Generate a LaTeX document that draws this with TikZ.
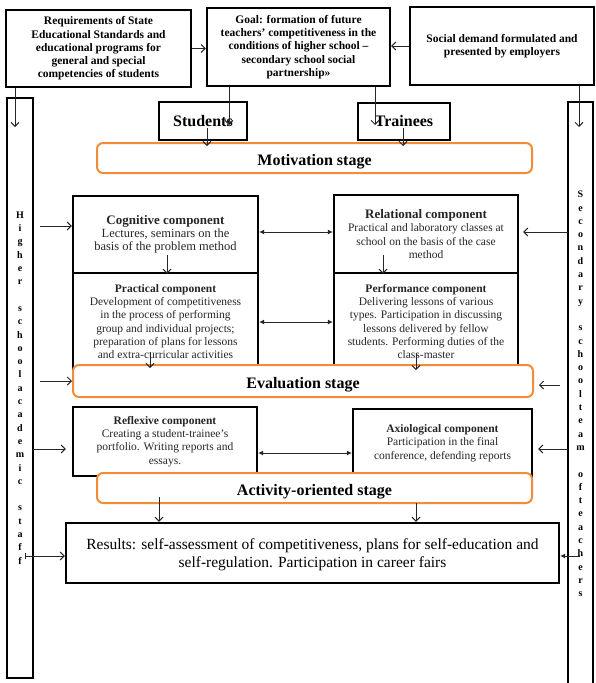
\documentclass[tikz,border=0pt]{standalone}
\usepackage{fontspec}
\setmainfont{Liberation Serif}
\usetikzlibrary{positioning, arrows.meta}
\definecolor{stageorange}{RGB}{242, 140, 56}

\tikzset{
  box/.style={draw, line width=2.2pt, inner sep=0pt, align=center},
  stagebox/.style={draw=stageorange, line width=2pt, rounded corners=6pt, fill=white,
    inner sep=0pt, text height=14pt, text depth=0pt, font=\bfseries\fontsize{16}{18}\selectfont},
  toptext/.style={font=\bfseries\fontsize{11.5}{13.3}\selectfont},
  comptext/.style={font=\fontsize{11.5}{13.3}\selectfont, text=black!85},
  coltext/.style={font=\bfseries\fontsize{10}{13.3}\selectfont},
  arr/.style={-{Straight Barb[length=4pt,width=8pt]}, line width=1pt, black!85},
  darr/.style={{Latex[length=5pt,width=5pt]}-{Latex[length=5pt,width=5pt]}, line width=1pt, black!85},
}

\begin{document}
\begin{tikzpicture}[x=1pt,y=-1pt]
\useasboundingbox (0,0) rectangle (596,683);
% top row
\node[box, toptext, minimum width=185pt, minimum height=77pt] (req) at (98.5,48.5) {Requirements of State\\Educational Standards and\\educational programs for\\general and special\\competencies of students};
\node[box, toptext, minimum width=183pt, minimum height=78pt] (goal) at (298.5,47) {Goal: formation of future\\teachers' competitiveness in the\\conditions of higher school –\\secondary school social\\partnership»};
\node[box, toptext, minimum width=184pt, minimum height=78pt] (demand) at (502,46) {Social demand formulated and\\presented by employers};
\node[box, font=\bfseries\fontsize{16}{18}\selectfont, minimum width=88pt, minimum height=38pt] (students) at (203,121) {Students};
\node[box, font=\bfseries\fontsize{16}{18}\selectfont, minimum width=92pt, minimum height=37pt] (trainees) at (404,121.5) {Trainees};
% side columns
\node[box, coltext, minimum width=26pt, minimum height=580pt] (hsstaff) at (20,388) {H\\i\\g\\h\\e\\r\\[13.3pt]s\\c\\h\\o\\o\\l\\a\\c\\a\\d\\e\\m\\i\\c\\[13.3pt]s\\t\\a\\f\\f};
\node[box, coltext, minimum width=25pt, minimum height=584pt] (stteam) at (580.5,394) {S\\e\\c\\o\\n\\d\\a\\r\\y\\[13.3pt]s\\c\\h\\o\\o\\l\\t\\e\\a\\m\\[13.3pt]o\\f\\t\\e\\a\\c\\h\\e\\r\\s};
% components
\node[box, comptext, minimum width=185pt, minimum height=77pt] (cogn) at (165.5,234.5) {{\bfseries\fontsize{13}{13.3}\selectfont Cognitive component}\\{\fontsize{12.5}{13.3}\selectfont Lectures, seminars on the}\\{\fontsize{12.5}{13.3}\selectfont basis of the problem method}};
\node[box, comptext, minimum width=185pt, minimum height=97pt] (pract) at (165.5,321.5) {{\bfseries Practical component}\\Development of competitiveness\\in the process of performing\\group and individual projects;\\preparation of plans for lessons\\and extra-curricular activities};
\node[box, comptext, minimum width=184pt, minimum height=78pt] (relat) at (426,234) {{\bfseries\fontsize{13}{13.3}\selectfont Relational component}\\Practical and laboratory classes at\\school on the basis of the case\\method};
\node[box, comptext, minimum width=184pt, minimum height=97pt] (perf) at (426,321.5) {{\bfseries Performance component}\\Delivering lessons of various\\types. Participation in discussing\\lessons delivered by fellow\\students. Performing duties of the\\class-master};
\node[box, comptext, minimum width=184pt, minimum height=69pt] (refl) at (165,441.5) {{\bfseries Reflexive component}\\Creating a student-trainee's\\portfolio. Writing reports and\\essays.};
\node[box, comptext, minimum width=179pt, minimum height=68pt] (axio) at (442.5,443) {{\bfseries Axiological component}\\Participation in the final\\conference, defending reports};
% stages
\node[stagebox, minimum width=435pt, minimum height=30pt] (motiv) at (314.5,158) {Motivation stage};
\node[stagebox, minimum width=460pt, minimum height=32pt] (eval) at (303,381) {Evaluation stage};
\node[stagebox, minimum width=435pt, minimum height=30pt] (activ) at (314.5,488) {Activity-oriented stage};
\node[box, font=\fontsize{15.5}{18}\selectfont, text depth=0pt, minimum width=493pt, minimum height=60pt] (results) at (312.5,553) {Results: self-assessment of competitiveness, plans for self-education and\\self-regulation. Participation in career fairs};

% arrows at the top
\draw[arr] (req.east) -- (req.east -| goal.west);
\draw[arr] (demand.west) -- (demand.west -| goal.east);
\coordinate (hsin) at (15,127);
\draw[arr] (req.south -| hsin) -- (hsin);
\coordinate (stin) at (579,127);
\draw[arr] (demand.south -| stin) -- (stin);
\coordinate (studin) at (229,125);
\draw[arr] (goal.south -| studin) -- (studin);
\coordinate (trin) at (375,125);
\draw[arr] (goal.south -| trin) -- (trin);
\coordinate (studout) at (207,128);
\draw[arr, shorten >=-4pt] (studout) -- (motiv.north -| studout);
\coordinate (trout) at (403,128);
\draw[arr, shorten >=-4pt] (trout) -- (motiv.north -| trout);

% arrows from the columns
\coordinate (hs1) at (40,226);
\draw[arr] (hs1) -- (cogn.west |- hs1);
\coordinate (hs2) at (40,381);
\draw[arr] (hs2) -- (eval.west |- hs2);
\coordinate (hs3) at (33,449);
\draw[arr, shorten >=6pt] (hs3) -- (refl.west |- hs3);
\coordinate (hs4) at (25,556);
\draw[{Bar[width=6pt]}-{Straight Barb[length=4pt,width=8pt]}, line width=1pt, black!85] (hs4) -- (results.west |- hs4);
\coordinate (st1) at (568,232);
\draw[arr, shorten >=4pt] (st1) -- (relat.east |- st1);
\coordinate (st2) at (560,385);
\draw[arr, shorten >=5pt] (st2) -- (eval.east |- st2);
\coordinate (st3) at (568,449);
\draw[arr, shorten >=5pt] (st3) -- (axio.east |- st3);
\coordinate (st4) at (580,556);
\draw[-{Latex[length=5pt,width=5pt]}, line width=1pt, black!85] (st4) -- (results.east |- st4);

% links between the components
\coordinate (d1) at (0,232);
\draw[darr] (cogn.east |- d1) -- (relat.west |- d1);
\coordinate (d2) at (0,322);
\draw[darr] (pract.east |- d2) -- (perf.west |- d2);
\coordinate (d3) at (0,453);
\draw[darr] (refl.east |- d3) -- (axio.west |- d3);

% arrows down the stages
\coordinate (v1) at (167,255);
\draw[arr, shorten >=-2pt] (v1) -- (pract.north -| v1);
\coordinate (v2) at (383,255);
\draw[arr, shorten >=-2pt] (v2) -- (perf.north -| v2);
\coordinate (v3) at (150,352);
\draw[arr, shorten >=-4pt] (v3) -- (eval.north -| v3);
\coordinate (v4) at (416,353);
\draw[arr, shorten >=-6pt] (v4) -- (eval.north -| v4);
\coordinate (v5) at (159,497);
\draw[arr] (v5) -- (results.north -| v5);
\coordinate (v6) at (416,503);
\draw[arr] (v6) -- (results.north -| v6);
\end{tikzpicture}
\end{document}
